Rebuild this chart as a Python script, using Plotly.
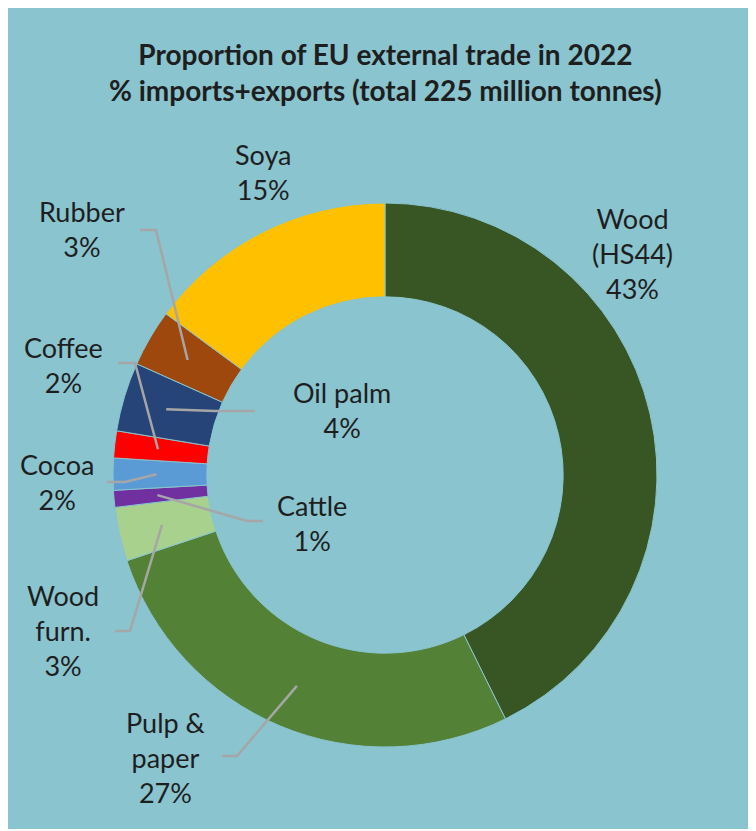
import math
import plotly.graph_objects as go

# ── Data (shares of EU external trade 2022, % of 225 Mt) ───────────────────
categories = ["Wood<br>(HS44)", "Pulp &<br>paper", "Wood<br>furn.", "Cattle", "Cocoa",
              "Coffee", "Oil palm", "Rubber", "Soya"]
shares = [42.7, 27.2, 3.2, 1.0, 1.9, 1.6, 4.1, 3.4, 14.9]
colors = ["#375623", "#538135", "#A9D18E", "#7030A0", "#5B9BD5",
          "#FF0000", "#264478", "#9E480E", "#FFC000"]

# ── Layout constants (pixels, in window coordinates) ───────────────────────
OFF = 8                      # page body margin
W, H = 756 - OFF, 831 - OFF  # figure size
CX, CY, R = 385, 475, 272
HOLE = 0.655
BG = "#89C4CF"
FONT = "Lato"
TXT = "#1E1E1E"
LEADER = "#A6A6A6"

# label centre and leader-line start/elbow for each category (None = no leader)
label_pos = [(632, 253), (165, 757), (63, 630), (312, 523), (57, 482),
             (63, 365), (342, 410), (82, 229), (264, 172)]
leader_pts = [None, [(222, 756), (237, 756)], [(115, 631), (130, 631)],
              [(263, 521), (247, 521)], [(107, 482), (125, 482)],
              [(118, 363), (135, 363)], [(255, 411), (215, 411)],
              [(140, 230), (156, 230)], None]


def px(x):
    return (x - OFF) / W


def py(y):
    return 1 - (y - OFF) / H


fig = go.Figure()
fig.add_trace(go.Pie(
    labels=[c.replace("<br>", " ") for c in categories], values=shares,
    sort=False, direction="clockwise", rotation=0, hole=HOLE,
    marker=dict(colors=colors, line=dict(color=BG, width=1)),
    textinfo="none", hoverinfo="label+percent", showlegend=False,
    domain=dict(x=[px(CX - R), px(CX + R)], y=[py(CY + R), py(CY - R)]),
))

total = sum(shares)
shapes = [dict(type="rect", xref="paper", yref="paper", x0=0, x1=1, y0=py(829), y1=1,
               fillcolor=BG, line=dict(width=0), layer="below")]
annotations = [dict(text="<b>Proportion of EU external trade in 2022<br>"
                         "% imports+exports (total 225 million tonnes)</b>",
                    x=px(385), y=py(72), xref="paper", yref="paper", showarrow=False,
                    xanchor="center", yanchor="middle",
                    font=dict(family=FONT, size=28, color=TXT))]

cum = 0.0
for name, val, (lx, ly), lead in zip(categories, shares, label_pos, leader_pts):
    mid = (cum + val / 2) / total * 2 * math.pi
    cum += val
    annotations.append(dict(text=f"{name}<br>{round(val / total * 100)}%",
                            x=px(lx), y=py(ly), xref="paper", yref="paper", showarrow=False,
                            xanchor="center", yanchor="middle",
                            font=dict(family=FONT, size=27, color=TXT)))
    if lead:
        rr = R * 0.84
        tip = (CX + rr * math.sin(mid), CY - rr * math.cos(mid))
        pts = lead + [tip]
        path = "M " + " L ".join(f"{px(x):.5f},{py(y):.5f}" for x, y in pts)
        shapes.append(dict(type="path", path=path, xref="paper", yref="paper",
                           line=dict(color=LEADER, width=2.5), layer="above"))

fig.update_layout(width=W, height=H, margin=dict(l=0, r=0, t=0, b=0),
                  paper_bgcolor="white", plot_bgcolor="white",
                  shapes=shapes, annotations=annotations)

fig.write_html("out.html")
